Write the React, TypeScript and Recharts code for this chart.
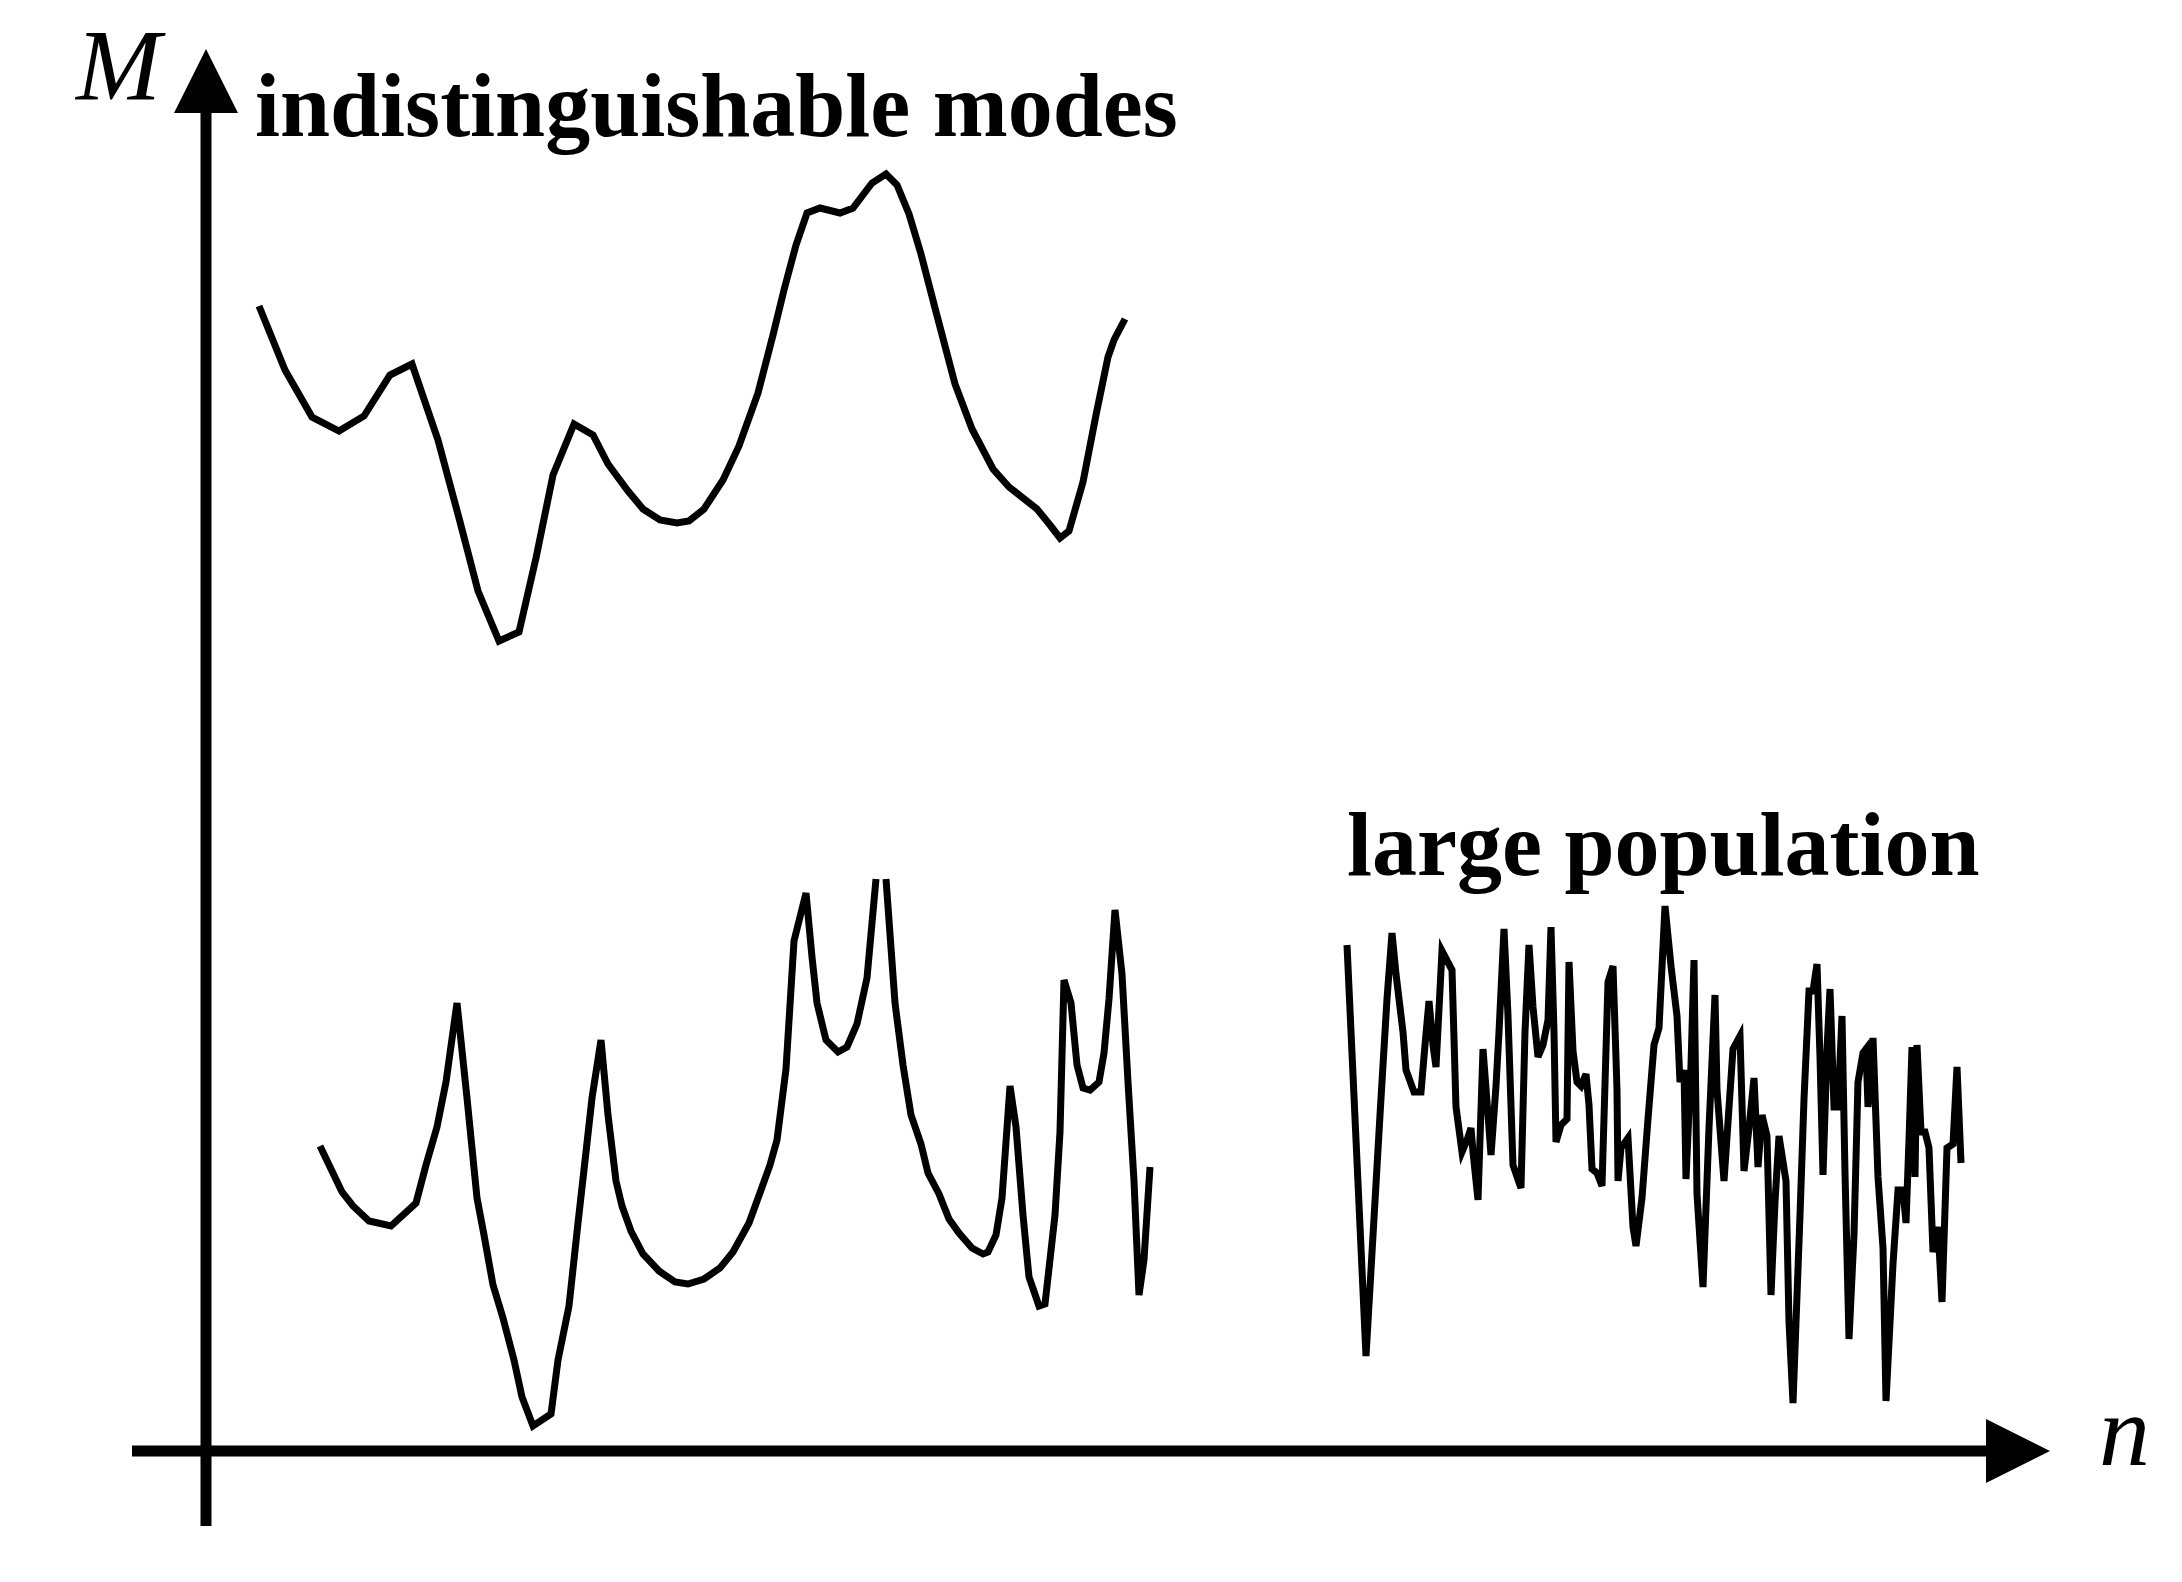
import { LineChart, Line, XAxis, YAxis, ReferenceLine } from "recharts"

// schematic: fitness M versus sample n (arbitrary units, origin at the axes crossing)

// upper curve, "indistinguishable modes"
const modesN = [53, 79, 106, 133, 158, 184, 206, 232, 253, 272, 293, 313, 330, 347, 368, 387, 402, 422, 437, 454, 471, 483, 498, 517, 533, 552, 567, 578, 590, 601, 614, 634, 647, 666, 680, 691, 703, 715, 729, 749, 766, 787, 803, 831, 844, 854, 863, 877, 890, 902, 908, 919]
const modesM = [1145, 1081, 1034, 1020, 1035, 1076, 1087, 1011, 933, 860, 810, 819, 893, 976, 1027, 1016, 987, 960, 942, 931, 928, 930, 942, 971, 1005, 1058, 1116, 1161, 1206, 1238, 1243, 1238, 1243, 1268, 1277, 1266, 1237, 1197, 1143, 1067, 1022, 982, 964, 942, 926, 913, 920, 969, 1036, 1094, 1111, 1132]

// lower left curve (the null is where the peak runs off the top)
const sparseN = [114, 125, 136, 147, 163, 185, 210, 220, 231, 240, 251, 261, 271, 278, 287, 297, 308, 316, 327, 345, 352, 363, 372, 380, 386, 395, 402, 410, 416, 425, 437, 453, 469, 482, 498, 514, 527, 543, 555, 564, 571, 580, 588, 600, 606, 611, 620, 632, 641, 651, 661, 670, 675, 680, 689, 697, 705, 715, 722, 733, 743, 753, 766, 777, 782, 790, 796, 804, 810, 817, 823, 833, 839, 849, 854, 858, 865, 871, 877, 884, 893, 898, 903, 909, 916, 922, 928, 933, 938, 944]
const sparseM = [305, 282, 259, 245, 230, 225, 248, 286, 324, 369, 448, 353, 253, 216, 166, 133, 91, 54, 25, 37, 91, 145, 228, 299, 353, 411, 336, 270, 245, 220, 197, 180, 169, 167, 172, 183, 199, 228, 261, 286, 311, 382, 510, 558, 494, 448, 411, 399, 404, 427, 473, 572, null, 572, 448, 386, 336, 307, 278, 257, 232, 218, 203, 197, 199, 216, 253, 365, 324, 236, 174, 145, 147, 236, 319, 471, 448, 386, 363, 361, 369, 398, 452, 541, 477, 369, 270, 156, 191, 284]

// lower right curve, "large population"
const largeN = [1141, 1160, 1174, 1181, 1186, 1190, 1197, 1200, 1208, 1215, 1219, 1223, 1227, 1230, 1236, 1246, 1250, 1256, 1261, 1265, 1267, 1272, 1277, 1282, 1285, 1290, 1293, 1298, 1302, 1307, 1315, 1319, 1323, 1327, 1332, 1337, 1342, 1345, 1348, 1350, 1355, 1361, 1363, 1367, 1371, 1375, 1380, 1383, 1386, 1391, 1396, 1402, 1407, 1411, 1412, 1415, 1422, 1427, 1430, 1436, 1442, 1448, 1453, 1459, 1465, 1471, 1474, 1478, 1480, 1485, 1488, 1491, 1497, 1503, 1509, 1511, 1518, 1527, 1534, 1538, 1543, 1548, 1552, 1556, 1561, 1565, 1569, 1573, 1580, 1583, 1587, 1594, 1598, 1603, 1607, 1611, 1614, 1617, 1621, 1624, 1628, 1632, 1636, 1639, 1643, 1648, 1652, 1657, 1660, 1662, 1667, 1672, 1677, 1680, 1687, 1692, 1697, 1700, 1703, 1706, 1709, 1711, 1715, 1719, 1723, 1727, 1732, 1736, 1741, 1747, 1751, 1755]
const largeM = [506, 95, 336, 452, 518, 477, 419, 381, 359, 359, 406, 450, 406, 384, 500, 481, 344, 299, 311, 323, 299, 251, 402, 336, 296, 365, 419, 522, 435, 286, 263, 419, 506, 444, 394, 406, 431, 524, 419, 309, 326, 332, 489, 400, 369, 365, 377, 346, 282, 278, 265, 469, 485, 361, 270, 303, 313, 224, 205, 253, 332, 406, 423, 545, 485, 435, 369, 381, 272, 386, 491, 257, 164, 323, 456, 361, 270, 402, 415, 280, 323, 373, 284, 336, 315, 156, 249, 315, 270, 129, 48, 236, 352, 460, 460, 487, 394, 276, 402, 462, 344, 344, 435, 278, 112, 216, 369, 398, 402, 344, 413, 274, 203, 50, 187, 261, 261, 228, 311, 404, 274, 406, 319, 319, 303, 199, 224, 149, 303, 307, 384, 288]

const nDomain = [0, 1844]
const mDomain = [0, 1402]

const zip = (ns: number[], ms: (number | null)[]) => ns.map((n, i) => ({ n, M: ms[i] }))

const modes = zip(modesN, modesM)
const sparse = zip(sparseN, sparseM)
const large = zip(largeN, largeM)

// line with a filled triangular head at (x2, y2)
function ArrowAxis(props: any) {
    const { x1, y1, x2, y2 } = props
    const len = Math.hypot(x2 - x1, y2 - y1)
    const ux = (x2 - x1) / len
    const uy = (y2 - y1) / len
    const head = 64
    const half = 32
    const bx = x2 - ux * head
    const by = y2 - uy * head
    return (
        <g>
            <line x1={x1} y1={y1} x2={bx} y2={by} stroke="#000" strokeWidth={11} />
            <polygon
                points={`${x2},${y2} ${bx - uy * half},${by + ux * half} ${bx + uy * half},${by - ux * half}`}
                fill="#000"
            />
        </g>
    )
}

const serif = "'Liberation Serif', 'Times New Roman', serif"

export default function App() {
    return (
        <div style={{ position: "absolute", left: 0, top: 0, width: 2182, height: 1582, background: "#fff" }}>
            <LineChart width={2182} height={1582} margin={{ top: 49, right: 132, bottom: 131, left: 206 }}>
                <XAxis type="number" dataKey="n" domain={nDomain} hide />
                <YAxis type="number" dataKey="M" domain={mDomain} hide />
                <ReferenceLine
                    segment={[{ x: -74, y: 0 }, { x: 1844, y: 0 }]}
                    ifOverflow="visible"
                    shape={ArrowAxis}
                />
                <ReferenceLine
                    segment={[{ x: 0, y: -75 }, { x: 0, y: 1402 }]}
                    ifOverflow="visible"
                    shape={ArrowAxis}
                />
                <Line data={modes} dataKey="M" type="linear" stroke="#000" strokeWidth={7} dot={false} isAnimationActive={false} />
                <Line data={sparse} dataKey="M" type="linear" stroke="#000" strokeWidth={7} dot={false} isAnimationActive={false} />
                <Line data={large} dataKey="M" type="linear" stroke="#000" strokeWidth={7} dot={false} isAnimationActive={false} />
                <text x={76} y={100} fontFamily={serif} fontStyle="italic" fontSize={102} fill="#000">M</text>
                <text x={2099} y={1465} fontFamily={serif} fontStyle="italic" fontSize={102} fill="#000">n</text>
                <text x={255} y={136} fontFamily={serif} fontWeight="bold" fontSize={90} fill="#000">indistinguishable modes</text>
                <text x={1347} y={875} fontFamily={serif} fontWeight="bold" fontSize={90} fill="#000">large population</text>
            </LineChart>
        </div>
    )
}
